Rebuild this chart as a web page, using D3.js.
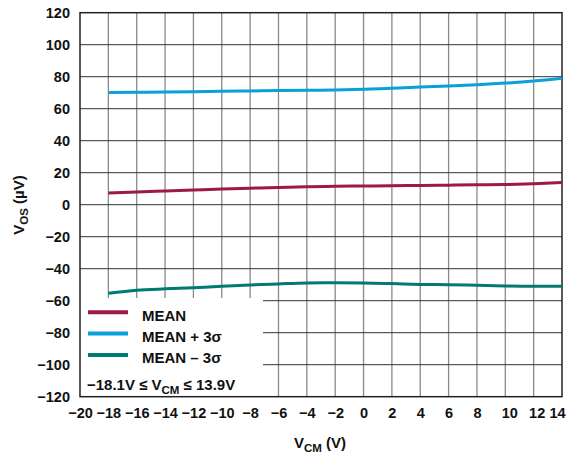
<!DOCTYPE html>
<html><head><meta charset="utf-8">
<script src="https://cdn.jsdelivr.net/npm/d3@7"></script>
<style>body{margin:0;background:#fff}svg{display:block}text{font-family:"Liberation Sans",Arial,sans-serif;font-weight:bold}</style>
</head><body><svg id="c" width="569" height="459"></svg>
<script>
const xTicks = d3.range(-20, 15, 2);
const yTicks = d3.range(-120, 121, 20);
const vcm = [-18, -16, -14, -12, -10, -8, -6, -4, -2, 0, 2, 4, 6, 8, 10, 12, 14];
const meanVals = [7.3, 8.0, 8.6, 9.2, 9.8, 10.3, 10.8, 11.2, 11.5, 11.7, 11.9, 12.0, 12.2, 12.4, 12.6, 13.1, 13.8];
const plusVals = [70.2, 70.3, 70.4, 70.6, 70.9, 71.1, 71.3, 71.5, 71.7, 72.1, 72.8, 73.6, 74.2, 75.0, 76.0, 77.3, 79.0];
const minusVals = [-55.4, -53.5, -52.6, -51.9, -51.0, -50.2, -49.5, -48.9, -48.8, -48.9, -49.3, -49.8, -50.0, -50.4, -50.8, -51.0, -51.0];
const seriesNames = ["MEAN", "MEAN + 3\u03C3", "MEAN \u2013 3\u03C3"];
const seriesColors = ["#9B1B42", "#0AA0D8", "#007A72"];

const svg = d3.select("#c");
const L = 80, R = 562, T = 12.7, B = 396.7;
const x = d3.scaleLinear().domain([-20, 14]).range([L, R]);
const y = d3.scaleLinear().domain([-120, 120]).range([B, T]);
const fmt = d => d < 0 ? "\u2212" + Math.abs(d) : String(d);

// grid
svg.append("g").selectAll("line").data(xTicks.slice(1, -1)).join("line")
  .attr("x1", d => x(d)).attr("x2", d => x(d)).attr("y1", T).attr("y2", B)
  .attr("stroke", "#8a8a8a").attr("stroke-width", 1.3);
svg.append("g").selectAll("line").data(yTicks.slice(1, -1)).join("line")
  .attr("x1", L).attr("x2", R).attr("y1", d => y(d)).attr("y2", d => y(d))
  .attr("stroke", "#333").attr("stroke-width", 1);

// legend background
svg.append("rect").attr("x", L).attr("y", 298).attr("width", 183).attr("height", B - 298).attr("fill", "#fff");

// frame
svg.append("rect").attr("x", L).attr("y", T).attr("width", R - L).attr("height", B - T)
  .attr("fill", "none").attr("stroke", "#222").attr("stroke-width", 1.5);

// axes labels via d3 axes
const ax = svg.append("g").attr("transform", `translate(0,${B})`)
  .call(d3.axisBottom(x).tickValues(xTicks).tickFormat(fmt).tickSize(0).tickPadding(11));
ax.select(".domain").remove();
ax.selectAll("text").attr("font-size", 14.5).attr("fill", "#111")
  .attr("dx", d => d === 14 ? -5 : (d === 10 ? 4 : (d === 12 ? 3 : 0)));
const ay = svg.append("g").attr("transform", `translate(${L},0)`)
  .call(d3.axisLeft(y).tickValues(yTicks).tickFormat(fmt).tickSize(0).tickPadding(10));
ay.select(".domain").remove();
ay.selectAll("text").attr("font-size", 14.5).attr("fill", "#111");

// lines
const line = d3.line().x((d, i) => x(vcm[i])).y(d => y(d)).curve(d3.curveMonotoneX);
[meanVals, plusVals, minusVals].forEach((vals, i) => {
  svg.append("path").attr("d", line(vals)).attr("fill", "none")
    .attr("stroke", seriesColors[i]).attr("stroke-width", 3);
});

// legend
const ly = [312.3, 333.5, 355];
seriesNames.forEach((n, i) => {
  svg.append("line").attr("x1", 88).attr("x2", 128).attr("y1", ly[i]).attr("y2", ly[i])
    .attr("stroke", seriesColors[i]).attr("stroke-width", 4);
  svg.append("text").attr("x", 142).attr("y", ly[i] + 8.3).attr("font-size", 15).attr("fill", "#111").text(n);
});
const cond = svg.append("text").attr("x", 87).attr("y", 390).attr("font-size", 15).attr("fill", "#111");
cond.append("tspan").text("\u221218.1V \u2264 V");
cond.append("tspan").attr("font-size", 11.5).attr("dy", 4).text("CM");
cond.append("tspan").attr("dy", -4).text(" \u2264 13.9V");

// axis titles
const xt = svg.append("text").attr("x", 320).attr("y", 448).attr("text-anchor", "middle").attr("font-size", 15).attr("fill", "#111");
xt.append("tspan").text("V");
xt.append("tspan").attr("font-size", 11.5).attr("dy", 3.5).text("CM");
xt.append("tspan").attr("dy", -3.5).text(" (V)");
const yt = svg.append("text").attr("transform", "translate(24,205) rotate(-90)").attr("text-anchor", "middle").attr("font-size", 15).attr("fill", "#111");
yt.append("tspan").text("V");
yt.append("tspan").attr("font-size", 11.5).attr("dy", 3.5).text("OS");
yt.append("tspan").attr("dy", -3.5).text(" (\u00B5V)");
</script></body></html>
